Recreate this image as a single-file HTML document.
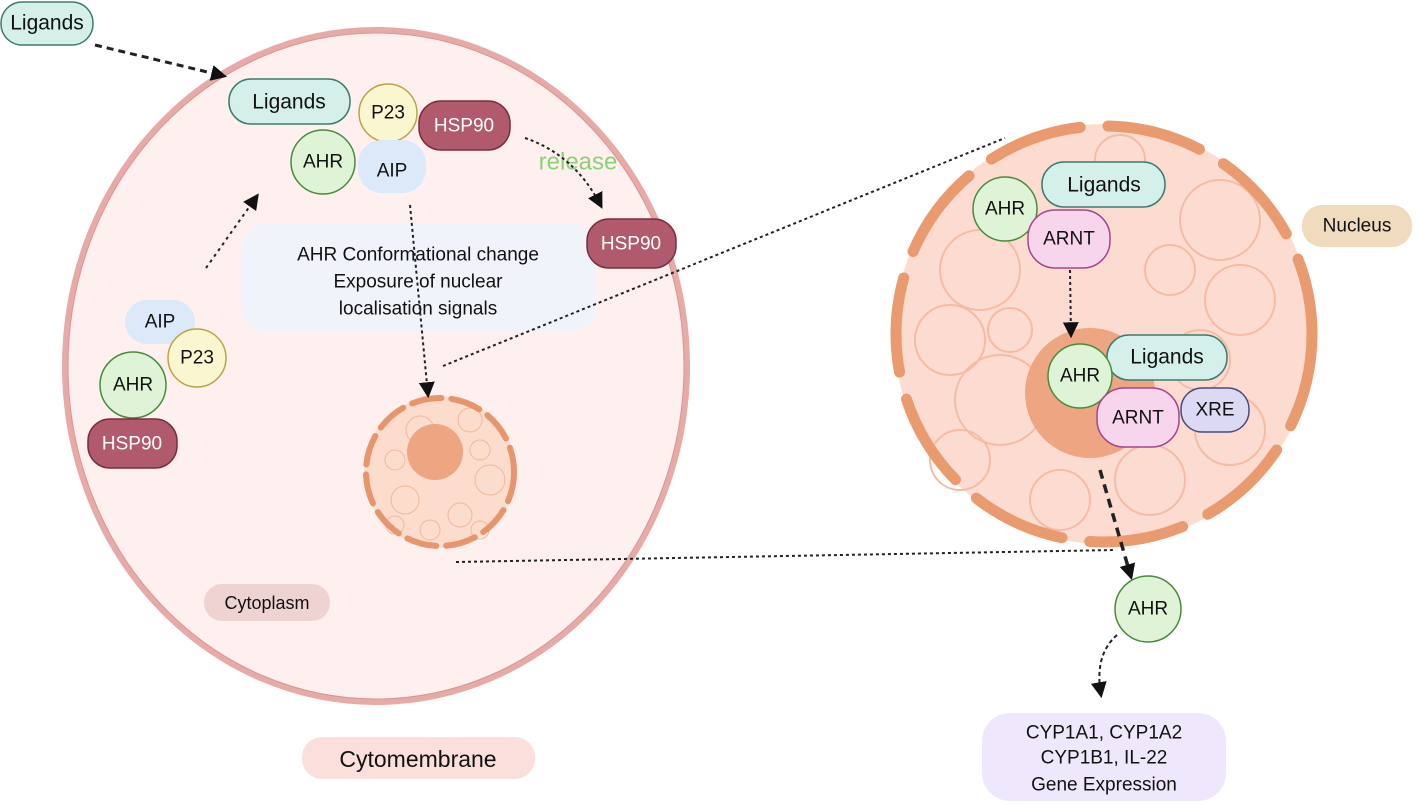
<!DOCTYPE html>
<html><head><meta charset="utf-8"><style>
html,body{margin:0;padding:0;background:#fff;}
svg{display:block;}
text{font-family:"Liberation Sans",sans-serif;font-size:19px;fill:#111;text-anchor:middle;dominant-baseline:central;}
</style></head><body>
<svg width="1417" height="806" viewBox="0 0 1417 806" xmlns="http://www.w3.org/2000/svg">
<defs>
<marker id="ah" viewBox="0 0 10 10" refX="8" refY="5" markerWidth="8" markerHeight="8" markerUnits="userSpaceOnUse" orient="auto"><path d="M0,0 L10,5 L0,10 z" fill="#111"/></marker>
<marker id="ahb" viewBox="0 0 10 10" refX="8" refY="5" markerWidth="16" markerHeight="16" markerUnits="userSpaceOnUse" orient="auto"><path d="M0,0 L10,5 L0,10 z" fill="#111"/></marker>
</defs>
<!-- cell -->
<ellipse cx="376" cy="366" rx="311" ry="336" fill="#fdf0ef" stroke="#e8aaa6" stroke-width="6"/>
<ellipse cx="376" cy="366" rx="308" ry="333" fill="none" stroke="#d99590" stroke-width="1"/>
<!-- small nucleus -->
<circle cx="440" cy="472" r="76" fill="#fbdccd"/>
<g fill="none" stroke="#f0b89e" stroke-width="1">
<circle cx="420" cy="430" r="14"/><circle cx="470" cy="420" r="12"/><circle cx="490" cy="480" r="15"/><circle cx="405" cy="500" r="14"/><circle cx="460" cy="515" r="12"/><circle cx="395" cy="460" r="10"/><circle cx="480" cy="450" r="10"/><circle cx="430" cy="530" r="10"/><circle cx="480" cy="530" r="9"/><circle cx="395" cy="525" r="9"/>
</g>
<circle cx="440" cy="472" r="74" fill="none" stroke="#e9956b" stroke-width="6" stroke-dasharray="30 10" stroke-linecap="round"/>
<circle cx="435" cy="452" r="28" fill="#eda582"/>
<!-- big nucleus -->
<circle cx="1104" cy="334" r="210" fill="#fcdcd0"/>
<g fill="none" stroke="#f4bca5" stroke-width="2">
<circle cx="980" cy="270" r="40"/><circle cx="950" cy="340" r="35"/><circle cx="1000" cy="400" r="45"/><circle cx="960" cy="460" r="30"/><circle cx="1220" cy="220" r="40"/><circle cx="1240" cy="300" r="35"/><circle cx="1200" cy="360" r="30"/><circle cx="1230" cy="430" r="35"/><circle cx="1150" cy="480" r="35"/><circle cx="1060" cy="500" r="30"/><circle cx="1120" cy="160" r="25"/><circle cx="1010" cy="330" r="22"/><circle cx="1170" cy="270" r="25"/>
</g>
<circle cx="1104" cy="334" r="208" fill="none" stroke="#e99a6e" stroke-width="11" stroke-dasharray="95 28" stroke-linecap="round"/>
<circle cx="1090" cy="393" r="65" fill="#eda582"/>
<!-- text box -->
<rect x="242" y="223" width="353" height="109" rx="24" fill="#f0f4fa"/>
<text x="418" y="255">AHR Conformational change</text>
<text x="418" y="282">Exposure of nuclear</text>
<text x="418" y="309">localisation signals</text>
<text x="578" y="162" style="fill:#8fcf7a;font-size:24px">release</text>
<!-- connectors -->
<g fill="none" stroke="#222">
<line x1="95" y1="45" x2="224" y2="76" stroke-width="3" stroke-dasharray="7 5" marker-end="url(#ahb)"/>
<line x1="206" y1="268" x2="257" y2="196" stroke-width="2" stroke-dasharray="3 4" marker-end="url(#ahb)"/>
<path d="M525,138 Q575,155 601,206" stroke-width="2" stroke-dasharray="3 3" marker-end="url(#ahb)"/>
<line x1="410" y1="205" x2="428" y2="395" stroke-width="2" stroke-dasharray="3 3" marker-end="url(#ahb)"/>
<line x1="443" y1="366" x2="1005" y2="138" stroke-width="2" stroke-dasharray="3 3"/>
<line x1="456" y1="562" x2="1115" y2="550" stroke-width="2" stroke-dasharray="3 3"/>
<line x1="1070" y1="270" x2="1071" y2="335" stroke-width="2" stroke-dasharray="3 3" marker-end="url(#ahb)"/>
<line x1="1100" y1="470" x2="1131" y2="577" stroke-width="3.5" stroke-dasharray="9 6" marker-end="url(#ahb)"/>
<path d="M1117,635 Q1094,655 1101,695" stroke-width="2" stroke-dasharray="4 3" marker-end="url(#ahb)"/>
</g>
<!-- left top ligands -->
<rect x="1" y="2" width="92" height="43" rx="21" fill="#d5efea" stroke="#3f7b6a" stroke-width="1.5"/><text x="47" y="23" style="font-size:21px">Ligands</text>
<!-- inner complex -->
<rect x="229" y="79" width="121" height="45" rx="22" fill="#d5efea" stroke="#3f7b6a" stroke-width="1.5"/><text x="289" y="102" style="font-size:21px">Ligands</text>
<circle cx="388" cy="113" r="29" fill="#faf6cf" stroke="#b9a44a" stroke-width="1.5"/><text x="388" y="113">P23</text>
<rect x="419" y="101" width="91" height="49" rx="22" fill="#b25a6d" stroke="#7a2e3d" stroke-width="1.5"/><text x="464" y="126" style="fill:#fff">HSP90</text>
<circle cx="323" cy="162" r="32" fill="#dff3d6" stroke="#4a8a3c" stroke-width="1.5"/><text x="323" y="162">AHR</text>
<rect x="358" y="140" width="68" height="53" rx="24" fill="#dbe9f8"/><text x="392" y="171">AIP</text>
<rect x="587" y="219" width="89" height="49" rx="22" fill="#b25a6d" stroke="#7a2e3d" stroke-width="1.5"/><text x="631" y="244" style="fill:#fff">HSP90</text>
<!-- left group -->
<rect x="125" y="300" width="70" height="44" rx="22" fill="#dbe9f8"/><text x="160" y="322">AIP</text>
<circle cx="197" cy="358" r="29" fill="#faf6cf" stroke="#b9a44a" stroke-width="1.5"/><text x="197" y="358">P23</text>
<circle cx="133" cy="385" r="33" fill="#dff3d6" stroke="#4a8a3c" stroke-width="1.5"/><text x="133" y="385">AHR</text>
<rect x="88" y="419" width="89" height="49" rx="22" fill="#b25a6d" stroke="#7a2e3d" stroke-width="1.5"/><text x="132" y="444" style="fill:#fff">HSP90</text>
<!-- labels -->
<rect x="204" y="584" width="126" height="37" rx="18" fill="#efd2d2"/><text x="267" y="603" style="font-size:18px">Cytoplasm</text>
<rect x="302" y="737" width="233" height="42" rx="20" fill="#fbdfdc"/><text x="418" y="759" style="font-size:23px">Cytomembrane</text>
<rect x="1302" y="205" width="110" height="42" rx="20" fill="#f1dbbf"/><text x="1357" y="226">Nucleus</text>
<!-- nucleus complexes -->
<rect x="1042" y="162" width="123" height="45" rx="22" fill="#d5efea" stroke="#3f7b6a" stroke-width="1.5"/><text x="1104" y="185" style="font-size:21px">Ligands</text>
<circle cx="1005" cy="209" r="32" fill="#dff3d6" stroke="#4a8a3c" stroke-width="1.5"/><text x="1005" y="209">AHR</text>
<rect x="1028" y="210" width="82" height="58" rx="27" fill="#f7d5ec" stroke="#a4468a" stroke-width="1.5"/><text x="1069" y="239">ARNT</text>
<rect x="1107" y="335" width="120" height="45" rx="22" fill="#d5efea" stroke="#3f7b6a" stroke-width="1.5"/><text x="1167" y="357" style="font-size:21px">Ligands</text>
<circle cx="1080" cy="376" r="32" fill="#dff3d6" stroke="#4a8a3c" stroke-width="1.5"/><text x="1080" y="376">AHR</text>
<rect x="1097" y="388" width="82" height="59" rx="27" fill="#f7d5ec" stroke="#a4468a" stroke-width="1.5"/><text x="1138" y="418">ARNT</text>
<rect x="1181" y="388" width="68" height="44" rx="21" fill="#dcdaf3" stroke="#4a4a7a" stroke-width="1.5"/><text x="1215" y="410">XRE</text>
<circle cx="1148" cy="609" r="33" fill="#dff3d6" stroke="#4a8a3c" stroke-width="1.5"/><text x="1148" y="609">AHR</text>
<rect x="982" y="713" width="244" height="88" rx="28" fill="#efe7fb"/>
<text x="1104" y="733">CYP1A1, CYP1A2</text>
<text x="1104" y="758">CYP1B1, IL-22</text>
<text x="1104" y="785">Gene Expression</text>
</svg>
</body></html>
